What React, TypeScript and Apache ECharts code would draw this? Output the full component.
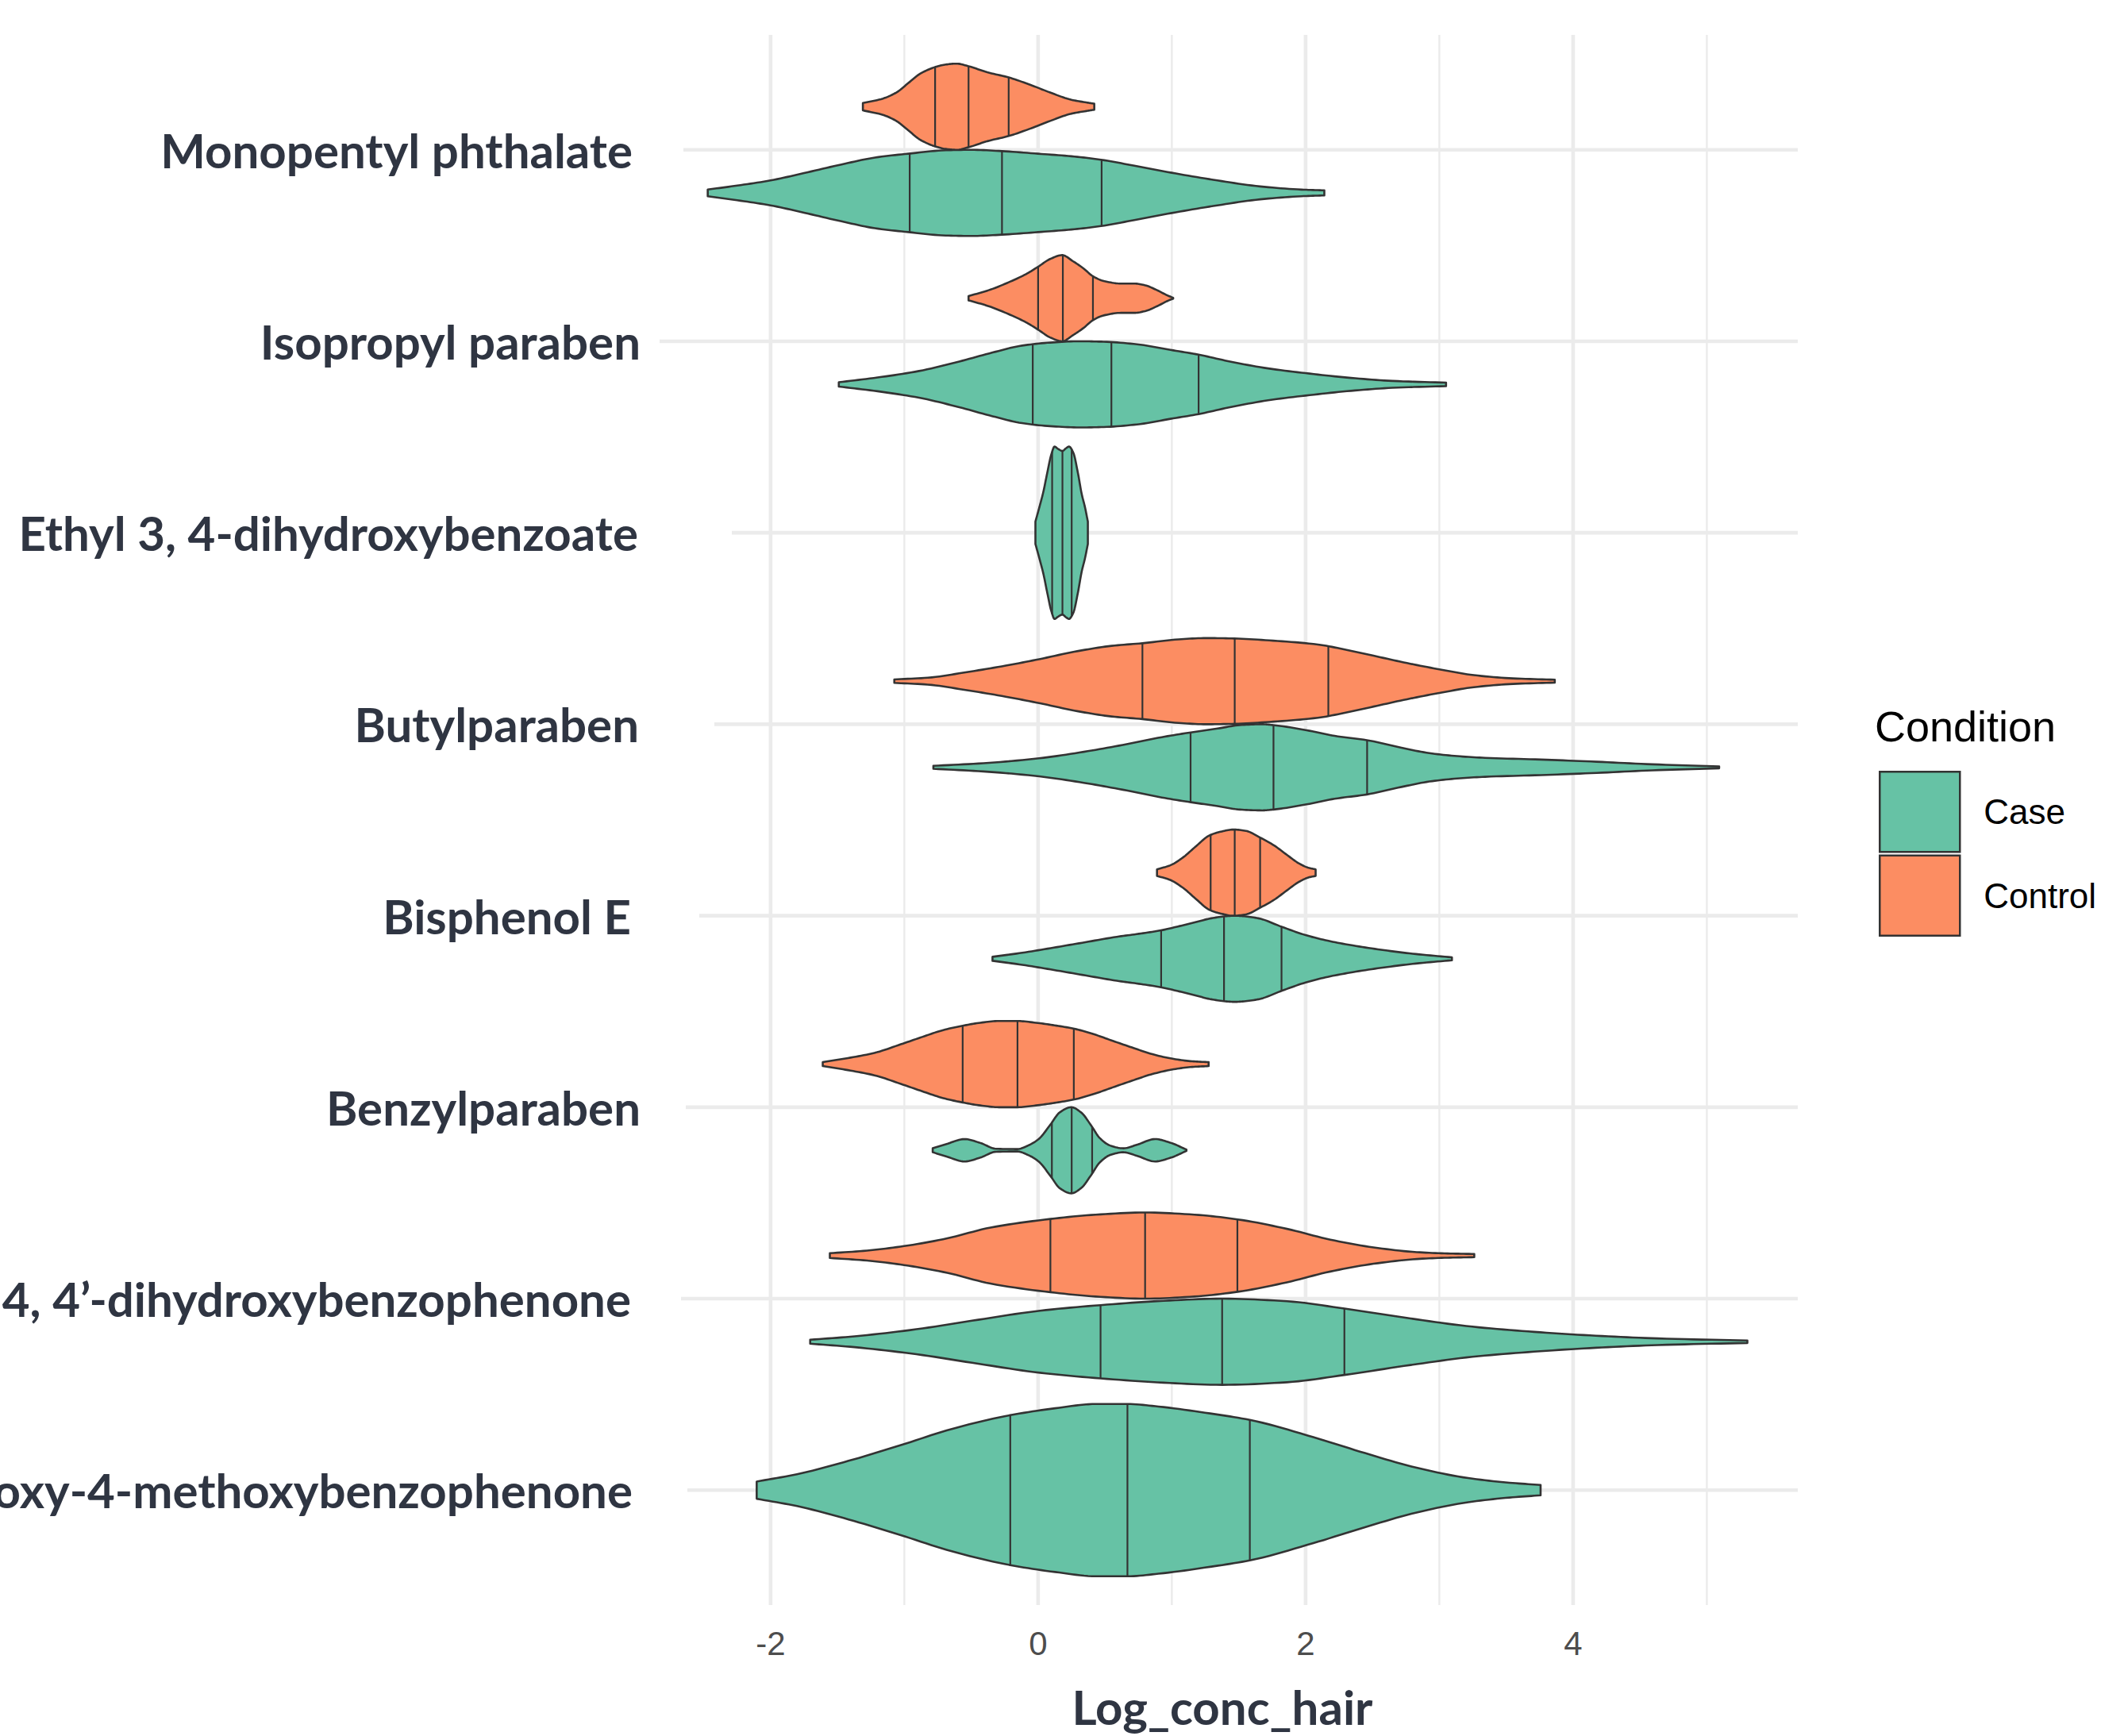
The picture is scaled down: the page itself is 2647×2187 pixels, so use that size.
import React, { useEffect, useRef } from "react";
import * as echarts from "echarts";

// ---------- categories (top to bottom) ----------
const CATEGORIES = [
  "Monopentyl phthalate",
  "Isopropyl paraben",
  "Ethyl 3, 4-dihydroxybenzoate",
  "Butylparaben",
  "Bisphenol E",
  "Benzylparaben",
  "4, 4\u2019-dihydroxybenzophenone",
  "2-hydroxy-4-methoxybenzophenone",
];
const GROUPS = ["Case", "Control"];
const X_TICKS = [-2, 0, 2, 4];
const X_MINOR = [-1, 1, 3, 5];

// ---------- violin outlines: x (Log_conc_hair) and relative half-width ----------
// Monopentyl phthalate
const monoCtrlX = [-1.31, -1.16, -1.06, -0.97, -0.88, -0.77, -0.69, -0.61, -0.52, -0.38, -0.22, -0.06, 0.09, 0.25, 0.36, 0.42];
const monoCtrlW = [0.085, 0.19, 0.33, 0.55, 0.77, 0.92, 0.98, 1.0, 0.94, 0.8, 0.68, 0.51, 0.33, 0.16, 0.1, 0.07];
const monoCtrlQ = [-0.77, -0.52, -0.22];
const monoCaseX = [-2.47, -2.25, -2.0, -1.75, -1.47, -1.22, -0.97, -0.69, -0.5, -0.27, 0.0, 0.25, 0.47, 0.72, 1.03, 1.34, 1.66, 1.97, 2.14];
const monoCaseW = [0.077, 0.17, 0.29, 0.46, 0.66, 0.82, 0.91, 0.99, 1.0, 0.97, 0.91, 0.85, 0.77, 0.63, 0.45, 0.29, 0.15, 0.077, 0.058];
const monoCaseQ = [-0.96, -0.27, 0.475];

// Isopropyl paraben
const isoCtrlX = [-0.52, -0.37, -0.22, -0.09, 0.0, 0.09, 0.18, 0.26, 0.34, 0.41, 0.49, 0.62, 0.72, 0.8, 0.89, 0.97, 1.01];
const isoCtrlW = [0.05, 0.185, 0.37, 0.56, 0.73, 0.91, 1.0, 0.86, 0.69, 0.51, 0.4, 0.34, 0.34, 0.3, 0.185, 0.06, 0.01];
const isoCtrlQ = [0.0, 0.185, 0.41];
const isoCaseX = [-1.49, -1.2, -0.89, -0.59, -0.34, -0.12, 0.09, 0.31, 0.49, 0.74, 0.99, 1.2, 1.42, 1.72, 2.03, 2.34, 2.65, 3.05];
const isoCaseW = [0.05, 0.16, 0.31, 0.53, 0.74, 0.9, 0.97, 1.0, 0.99, 0.93, 0.8, 0.69, 0.54, 0.37, 0.25, 0.15, 0.08, 0.04];
const isoCaseQ = [-0.04, 0.548, 1.2];

// Ethyl 3, 4-dihydroxybenzoate (Case only)
const ethCaseX = [-0.02, 0.01, 0.04, 0.069, 0.099, 0.123, 0.148, 0.182, 0.208, 0.231, 0.263, 0.297, 0.326, 0.35, 0.372];
const ethCaseW = [0.13, 0.3, 0.48, 0.7, 0.91, 1.0, 0.975, 0.95, 0.98, 1.0, 0.93, 0.7, 0.45, 0.3, 0.13];
const ethCaseQ = [0.105, 0.182, 0.251];

// Butylparaben
const butCtrlX = [-1.075, -0.825, -0.533, -0.242, 0.008, 0.3, 0.55, 0.779, 1.05, 1.258, 1.467, 1.758, 2.092, 2.3, 2.508, 2.758, 3.008, 3.258, 3.55, 3.863];
const butCtrlW = [0.04, 0.08, 0.21, 0.36, 0.51, 0.7, 0.82, 0.88, 0.97, 1.0, 0.99, 0.94, 0.85, 0.73, 0.59, 0.42, 0.27, 0.14, 0.064, 0.034];
const butCtrlQ = [0.78, 1.47, 2.17];
const butCaseX = [-0.783, -0.408, 0.008, 0.342, 0.633, 0.925, 1.142, 1.342, 1.508, 1.675, 1.758, 2.008, 2.217, 2.458, 2.717, 2.925, 3.133, 3.342, 3.758, 4.175, 4.592, 5.092];
const butCaseW = [0.034, 0.096, 0.21, 0.36, 0.52, 0.7, 0.81, 0.9, 0.98, 1.0, 0.98, 0.86, 0.73, 0.63, 0.455, 0.33, 0.26, 0.22, 0.18, 0.13, 0.07, 0.022];
const butCaseQ = [1.14, 1.76, 2.46];

// Bisphenol E
const bpeCtrlX = [0.889, 0.988, 1.082, 1.176, 1.282, 1.365, 1.459, 1.553, 1.659, 1.765, 1.859, 1.953, 2.024, 2.075];
const bpeCtrlW = [0.077, 0.17, 0.35, 0.6, 0.865, 0.95, 1.0, 0.97, 0.815, 0.63, 0.415, 0.21, 0.11, 0.077];
const bpeCtrlQ = [1.29, 1.47, 1.66];
const bpeCaseX = [-0.341, -0.118, 0.118, 0.353, 0.588, 0.753, 0.918, 1.059, 1.176, 1.294, 1.412, 1.471, 1.529, 1.647, 1.824, 2.0, 2.165, 2.353, 2.588, 2.824, 3.094];
const bpeCaseW = [0.046, 0.14, 0.26, 0.385, 0.51, 0.58, 0.66, 0.76, 0.85, 0.94, 0.99, 1.0, 0.99, 0.94, 0.74, 0.55, 0.42, 0.31, 0.2, 0.11, 0.034];
const bpeCaseQ = [0.92, 1.39, 1.82];

// Benzylparaben
const bzpCtrlX = [-1.61, -1.422, -1.224, -1.026, -0.867, -0.709, -0.564, -0.432, -0.293, -0.154, -0.016, 0.123, 0.271, 0.42, 0.558, 0.717, 0.855, 1.014, 1.152, 1.275];
const bzpCtrlW = [0.046, 0.14, 0.26, 0.46, 0.63, 0.79, 0.89, 0.96, 1.0, 1.0, 0.96, 0.9, 0.82, 0.69, 0.54, 0.37, 0.23, 0.12, 0.065, 0.046];
const bzpCtrlQ = [-0.564, -0.154, 0.267];
const bzpCaseX = [-0.788, -0.689, -0.55, -0.432, -0.313, -0.154, -0.075, 0.004, 0.093, 0.162, 0.248, 0.321, 0.4, 0.459, 0.539, 0.638, 0.737, 0.875, 0.994, 1.109];
const bzpCaseW = [0.046, 0.14, 0.26, 0.17, 0.034, 0.028, 0.11, 0.26, 0.6, 0.88, 1.0, 0.88, 0.56, 0.29, 0.11, 0.046, 0.126, 0.26, 0.17, 0.015];
const bzpCaseQ = [0.103, 0.251, 0.404];

// 4, 4'-dihydroxybenzophenone
const dhbCtrlX = [-1.557, -1.279, -1.002, -0.679, -0.356, 0.092, 0.43, 0.799, 1.169, 1.492, 1.861, 2.185, 2.508, 2.831, 3.062, 3.261];
const dhbCtrlW = [0.055, 0.116, 0.22, 0.4, 0.65, 0.85, 0.95, 1.0, 0.95, 0.84, 0.62, 0.37, 0.19, 0.08, 0.049, 0.037];
const dhbCtrlQ = [0.092, 0.8, 1.49];
const dhbCaseX = [-1.704, -1.372, -0.91, -0.448, 0.014, 0.467, 0.938, 1.376, 1.861, 2.291, 2.785, 3.247, 3.709, 4.171, 4.633, 5.303];
const dhbCaseW = [0.046, 0.126, 0.29, 0.51, 0.72, 0.85, 0.95, 1.0, 0.94, 0.77, 0.54, 0.35, 0.23, 0.14, 0.077, 0.028];
const dhbCaseQ = [0.467, 1.376, 2.29];

// 2-hydroxy-4-methoxybenzophenone (Case only)
const hmbCaseX = [-2.104, -1.803, -1.417, -1.031, -0.645, -0.208, 0.127, 0.436, 0.668, 0.9, 1.286, 1.583, 2.058, 2.444, 2.83, 3.216, 3.525, 3.757];
const hmbCaseW = [0.1, 0.185, 0.34, 0.52, 0.71, 0.87, 0.95, 1.0, 1.0, 0.97, 0.89, 0.815, 0.615, 0.43, 0.26, 0.14, 0.086, 0.06];
const hmbCaseQ = [-0.208, 0.668, 1.583];

type Violin = { cat: number; group: string; x: number[]; w: number[]; q: number[] };
const VIOLINS: Violin[] = [
  { cat: 0, group: "Control", x: monoCtrlX, w: monoCtrlW, q: monoCtrlQ },
  { cat: 0, group: "Case", x: monoCaseX, w: monoCaseW, q: monoCaseQ },
  { cat: 1, group: "Control", x: isoCtrlX, w: isoCtrlW, q: isoCtrlQ },
  { cat: 1, group: "Case", x: isoCaseX, w: isoCaseW, q: isoCaseQ },
  { cat: 2, group: "Case", x: ethCaseX, w: ethCaseW, q: ethCaseQ },
  { cat: 3, group: "Control", x: butCtrlX, w: butCtrlW, q: butCtrlQ },
  { cat: 3, group: "Case", x: butCaseX, w: butCaseW, q: butCaseQ },
  { cat: 4, group: "Control", x: bpeCtrlX, w: bpeCtrlW, q: bpeCtrlQ },
  { cat: 4, group: "Case", x: bpeCaseX, w: bpeCaseW, q: bpeCaseQ },
  { cat: 5, group: "Control", x: bzpCtrlX, w: bzpCtrlW, q: bzpCtrlQ },
  { cat: 5, group: "Case", x: bzpCaseX, w: bzpCaseW, q: bzpCaseQ },
  { cat: 6, group: "Control", x: dhbCtrlX, w: dhbCtrlW, q: dhbCtrlQ },
  { cat: 6, group: "Case", x: dhbCaseX, w: dhbCaseW, q: dhbCaseQ },
  { cat: 7, group: "Case", x: hmbCaseX, w: hmbCaseW, q: hmbCaseQ },
];

// ---------- styling / layout ----------
const COLORS: Record<string, string> = { Case: "#66C2A5", Control: "#FC8D62" };
const OUTLINE = "#333333";
const GRID_COLOR = "#EBEBEB";
const LABEL_COLOR = "#2f3542";
const LABEL_FONT = "Lato, 'Open Sans', sans-serif";
const PLAIN_FONT = "'Liberation Sans', Arial, sans-serif";
const LABEL_SIZE = 60;
// right padding of each y label (text end offset) and pixel start of each row gridline (label boxes cover the rest)
const LABEL_PAD = [10, 0, 3, 2, 12, 0, 12, 10];
const ROW_LINE_START = [861, 831, 922, 900, 881, 864, 858, 866];

const countPerCat = CATEGORIES.map((_, i) => VIOLINS.filter((v) => v.cat === i).length);

// monotone cubic (Fritsch–Carlson) curve through the outline points, used only for drawing
function monotoneCurve(xs: number[], ys: number[]) {
  const n = xs.length;
  const d: number[] = [];
  const m: number[] = new Array(n).fill(0);
  for (let i = 0; i < n - 1; i++) d.push((ys[i + 1] - ys[i]) / (xs[i + 1] - xs[i]));
  m[0] = d[0];
  m[n - 1] = d[n - 2];
  for (let i = 1; i < n - 1; i++) {
    if (d[i - 1] * d[i] <= 0) m[i] = 0;
    else {
      const h0 = xs[i] - xs[i - 1];
      const h1 = xs[i + 1] - xs[i];
      const w1 = 2 * h1 + h0;
      const w2 = h1 + 2 * h0;
      m[i] = (w1 + w2) / (w1 / d[i - 1] + w2 / d[i]);
    }
  }
  return (x: number) => {
    if (x <= xs[0]) return ys[0];
    if (x >= xs[n - 1]) return ys[n - 1];
    let i = 0;
    while (i < n - 2 && x > xs[i + 1]) i++;
    const h = xs[i + 1] - xs[i];
    const t = (x - xs[i]) / h;
    const t2 = t * t;
    const t3 = t2 * t;
    return (
      (2 * t3 - 3 * t2 + 1) * ys[i] +
      (t3 - 2 * t2 + t) * h * m[i] +
      (-2 * t3 + 3 * t2) * ys[i + 1] +
      (t3 - t2) * h * m[i + 1]
    );
  };
}

function makeViolinRender(group: string) {
  const list = VIOLINS.filter((v) => v.group === group);
  return (params: any, api: any) => {
    const v = list[params.dataIndex];
    const both = countPerCat[v.cat] > 1;
    const halfMax = both ? 0.225 : 0.45;
    const center = v.cat + 1 + (both ? (group === "Control" ? -0.225 : 0.225) : 0);
    const f = monotoneCurve(v.x, v.w);
    const samples: number[] = [];
    for (let i = 0; i < v.x.length - 1; i++) {
      const steps = 10;
      for (let s = 0; s < steps; s++) samples.push(v.x[i] + ((v.x[i + 1] - v.x[i]) * s) / steps);
    }
    samples.push(v.x[v.x.length - 1]);
    const top = samples.map((x) => api.coord([x, center - f(x) * halfMax]));
    const bot = samples.map((x) => api.coord([x, center + f(x) * halfMax])).reverse();
    const children: any[] = [
      {
        type: "polygon",
        shape: { points: [...top, ...bot] },
        style: { fill: COLORS[group], stroke: OUTLINE, lineWidth: 2.6, lineJoin: "round" },
      },
    ];
    v.q.forEach((q) => {
      const w = f(q);
      const p1 = api.coord([q, center - w * halfMax]);
      const p2 = api.coord([q, center + w * halfMax]);
      children.push({
        type: "line",
        shape: { x1: p1[0], y1: p1[1], x2: p2[0], y2: p2[1] },
        style: { stroke: OUTLINE, lineWidth: 2.2 },
      });
    });
    return { type: "group", children };
  };
}

function renderGrid(params: any, api: any) {
  const cs = params.coordSys;
  const children: any[] = [];
  X_MINOR.forEach((x) => {
    const px = api.coord([x, 1])[0];
    children.push({ type: "line", shape: { x1: px, y1: cs.y, x2: px, y2: cs.y + cs.height }, style: { stroke: GRID_COLOR, lineWidth: 2.4 } });
  });
  X_TICKS.forEach((x) => {
    const px = api.coord([x, 1])[0];
    children.push({ type: "line", shape: { x1: px, y1: cs.y, x2: px, y2: cs.y + cs.height }, style: { stroke: GRID_COLOR, lineWidth: 4.6 } });
  });
  CATEGORIES.forEach((_, i) => {
    const py = api.coord([0, i + 1])[1];
    children.push({ type: "line", shape: { x1: ROW_LINE_START[i], y1: py, x2: cs.x + cs.width, y2: py }, style: { stroke: GRID_COLOR, lineWidth: 4.6 } });
  });
  return { type: "group", children };
}

export default function App() {
  const ref = useRef<HTMLDivElement>(null);
  useEffect(() => {
    if (!ref.current) return;
    const chart = echarts.init(ref.current, null, { renderer: "svg" });
    const rich: Record<string, any> = {};
    LABEL_PAD.forEach((p, i) => {
      rich["r" + i] = {
        fontFamily: LABEL_FONT,
        fontWeight: "bold",
        fontSize: LABEL_SIZE,
        color: LABEL_COLOR,
        padding: [0, p, 0, 0],
      };
    });
    const option: any = {
      animation: false,
      backgroundColor: "#ffffff",
      title: {
        text: "Condition",
        left: 2362,
        top: 888,
        padding: 0,
        textStyle: { fontFamily: PLAIN_FONT, fontWeight: "normal", fontSize: 54, color: "#000000" },
      },
      legend: {
        data: GROUPS,
        orient: "vertical",
        left: 2367,
        top: 971,
        padding: 0,
        icon: "rect",
        itemWidth: 101,
        itemHeight: 101,
        itemGap: 2,
        itemStyle: { borderColor: OUTLINE, borderWidth: 2.5 },
        textStyle: { fontFamily: PLAIN_FONT, fontSize: 44, color: "#000000", padding: [0, 0, 0, 25] },
        selectedMode: false,
      },
      grid: { left: 831, right: 382, top: 44, bottom: 165, containLabel: false, outerBoundsMode: "none" },
      xAxis: {
        type: "value",
        min: -2.83,
        max: 5.68,
        axisLine: { show: false },
        axisTick: { show: false },
        splitLine: { show: false },
        axisLabel: {
          customValues: X_TICKS,
          margin: 27,
          fontFamily: PLAIN_FONT,
          fontSize: 42,
          color: "#4d4d4d",
        },
        name: "Log_conc_hair",
        nameLocation: "middle",
        nameGap: 98,
        nameTextStyle: {
          fontFamily: LABEL_FONT,
          fontWeight: "bold",
          fontSize: LABEL_SIZE,
          color: LABEL_COLOR,
          padding: [0, 16, 0, 0],
        },
      },
      yAxis: {
        type: "value",
        min: 0.4,
        max: 8.6,
        inverse: true,
        axisLine: { show: false },
        axisTick: { show: false },
        splitLine: { show: false },
        axisLabel: {
          customValues: CATEGORIES.map((_, i) => i + 1),
          margin: 24,
          fontFamily: LABEL_FONT,
          fontWeight: "bold",
          fontSize: LABEL_SIZE,
          color: LABEL_COLOR,
          formatter: (val: number) => {
            const i = Math.round(val) - 1;
            return `{r${i}|${CATEGORIES[i] ?? ""}}`;
          },
          rich,
        },
      },
      series: [
        {
          type: "custom",
          name: "grid",
          silent: true,
          z: 0,
          renderItem: renderGrid,
          data: [[0, 1]],
          encode: { x: 0, y: 1 },
        },
        ...GROUPS.map((g) => ({
          type: "custom",
          name: g,
          z: 2,
          itemStyle: { color: COLORS[g], borderColor: OUTLINE },
          renderItem: makeViolinRender(g),
          data: VIOLINS.filter((v) => v.group === g).map((v) => [v.x[0], v.cat + 1]),
          encode: { x: 0, y: 1 },
        })),
      ],
    };
    chart.setOption(option);
    return () => chart.dispose();
  }, []);
  return <div ref={ref} style={{ position: "fixed", left: 0, top: 0, width: 2647, height: 2187 }} />;
}
